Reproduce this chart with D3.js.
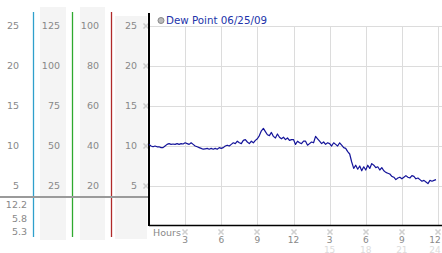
<!DOCTYPE html>
<html>
<head>
<meta charset="utf-8">
<script src="https://cdn.jsdelivr.net/npm/d3@7"></script>
<style>
  body { margin: 0; background: #fff; }
  text { font-family: 'DejaVu Sans', Verdana, sans-serif; }
</style>
</head>
<body>
<div id="chart"></div>
<script>
// dew point readings, one every 10 minutes starting at midnight
const stepHours = 1 / 6
const dewPoint = [
  10.2, 10.0, 9.9, 10.0, 9.9, 9.9,
  9.8, 9.8, 10.0, 10.2, 10.3, 10.2,
  10.25, 10.2, 10.3, 10.2, 10.3, 10.25,
  10.4, 10.3, 10.2, 10.4, 10.2, 10.0,
  9.9, 9.8, 9.7, 9.6, 9.65, 9.7,
  9.6, 9.7, 9.6, 9.7, 9.6, 9.8,
  9.7, 9.8, 10.0, 10.1, 10.0, 10.2,
  10.4, 10.3, 10.6, 10.4, 10.3, 10.7,
  10.8, 10.5, 10.3, 10.6, 10.4, 10.7,
  10.9, 11.3, 11.9, 12.2, 11.8, 11.4,
  11.3, 11.7, 11.2, 11.0, 11.5, 11.1,
  10.9, 11.1, 10.8, 11.0, 10.7, 10.8,
  10.8, 10.2, 10.6, 10.4, 10.3, 10.6,
  10.6, 10.1, 10.3, 10.5, 10.4, 11.2,
  10.9, 10.6, 10.3, 10.5, 10.2, 10.4,
  10.3, 10.0, 10.4, 10.2, 10.0, 10.4,
  10.1, 9.8, 9.7, 9.3, 9.0, 8.0,
  7.2, 7.6, 7.1, 7.5, 6.9, 7.4,
  7.0, 7.6, 7.2, 7.8, 7.6, 7.3,
  7.4, 7.0, 7.3, 6.9, 6.7, 6.6,
  6.5, 6.2, 6.1, 5.8, 6.0, 6.1,
  5.9, 6.1, 6.3, 6.1, 6.0, 6.3,
  6.2, 5.9, 6.0, 5.8, 5.6, 5.7,
  5.5, 5.3, 5.7, 5.6, 5.7, 5.8
]

const seriesName = 'Dew Point 06/25/09'
const yTicks = [5, 10, 15, 20, 25]
const col2Labels = [25, 50, 75, 100, 125]
const col3Labels = [20, 40, 60, 80, 100]
const statLabels = ['12.2', '5.8', '5.3']
const xTicks = [3, 6, 9, 12, 15, 18, 21, 24]
const xTickLabels = ['3', '6', '9', '12', '3', '6', '9', '12']
const xTickSub = ['', '', '', '', '15', '18', '21', '24']

const width = 442
const height = 253
const plot = { left: 149, right: 438, top: 13, bottom: 226 }

const svg = d3.select('#chart')
.append('svg')
.attr('width', width)
.attr('height', height)

const x = d3.scaleLinear().domain([0, 24]).range([plot.left, plot.right])
const y = d3.scaleLinear().domain([0, 25]).range([226, 26])

// little dotted tick marker, an X made of 1px dots
const markDots = [[-2, -2], [2, -2], [-1, -1], [1, -1], [0, 0], [-1, 1], [1, 1], [-2, 2], [2, 2]]
const mark = (g, px, py) => {
  const cx = Math.round(px)
  const cy = Math.round(py)
  g.selectAll(null)
    .data(markDots)
    .enter()
    .append('rect')
    .attr('x', d => cx + d[0] - 0.5)
    .attr('y', d => cy + d[1] - 0.5)
    .attr('width', 1).attr('height', 1)
    .attr('fill', '#999')
}

// left side columns
const side = svg.append('g')
side.append('rect').attr('x', 40).attr('y', 7).attr('width', 26).attr('height', 233).attr('fill', '#f4f4f4')
side.append('rect').attr('x', 80).attr('y', 7).attr('width', 25).attr('height', 233).attr('fill', '#f4f4f4')
side.append('rect').attr('x', 115).attr('y', 16).attr('width', 32).attr('height', 223).attr('fill', '#f4f4f4')

const colLine = (px, color) => {
  side.append('line')
    .attr('x1', px).attr('x2', px)
    .attr('y1', 12).attr('y2', 237)
    .attr('stroke', color)
    .attr('stroke-width', 1.3)
}
colLine(33.5, '#2fa0cc')
colLine(72.5, '#2faa2f')
colLine(111.5, '#b02a2a')

const colText = (vals, px) => {
  side.selectAll(null)
    .data(yTicks)
    .enter()
    .append('text')
    .attr('x', px)
    .attr('y', d => y(d))
    .attr('dy', '0.35em')
    .attr('text-anchor', 'end')
    .attr('font-size', 9.5)
    .attr('fill', '#888')
    .text((d, i) => vals[i])
}
colText(yTicks, 19)
colText(col2Labels, 60)
colText(col3Labels, 99)
colText(yTicks, 137)
yTicks.forEach(d => mark(side, 145.5, y(d)))

side.append('line')
  .attr('x1', 0).attr('x2', 149)
  .attr('y1', 197).attr('y2', 197)
  .attr('stroke', '#9a9a9a')
  .attr('stroke-width', 2)

side.selectAll(null)
  .data(statLabels)
  .enter()
  .append('text')
  .attr('x', 27)
  .attr('y', (d, i) => 205 + i * 13.5)
  .attr('dy', '0.35em')
  .attr('text-anchor', 'end')
  .attr('font-size', 9.5)
  .attr('fill', '#888')
  .text(d => d)

// grid
const grid = svg.append('g')
grid.selectAll(null)
  .data(yTicks)
  .enter()
  .append('line')
  .attr('x1', plot.left).attr('x2', width)
  .attr('y1', d => Math.round(y(d)) + 0.5).attr('y2', d => Math.round(y(d)) + 0.5)
  .attr('stroke', '#dcdcdc')
grid.selectAll(null)
  .data(xTicks)
  .enter()
  .append('line')
  .attr('x1', d => Math.round(x(d)) + 0.5).attr('x2', d => Math.round(x(d)) + 0.5)
  .attr('y1', y(25)).attr('y2', plot.bottom)
  .attr('stroke', '#dcdcdc')

// axes
svg.append('line')
  .attr('x1', plot.left).attr('x2', plot.left)
  .attr('y1', plot.top).attr('y2', plot.bottom)
  .attr('stroke', '#000')
  .attr('stroke-width', 2)
svg.append('line')
  .attr('x1', plot.left).attr('x2', width)
  .attr('y1', plot.bottom - 0.5).attr('y2', plot.bottom - 0.5)
  .attr('stroke', '#000')
  .attr('stroke-width', 1.5)

const xa = svg.append('g')
xa.append('text')
  .attr('x', 153).attr('y', 236)
  .attr('font-size', 9.5)
  .attr('fill', '#888')
  .text('Hours')
xTicks.forEach((d, i) => {
  const px = Math.min(x(d), 435)
  mark(xa, x(d), 232)
  xa.append('text')
    .attr('x', px).attr('y', 243)
    .attr('text-anchor', 'middle')
    .attr('font-size', 9)
    .attr('fill', '#888')
    .text(xTickLabels[i])
  xa.append('text')
    .attr('x', px).attr('y', 252.5)
    .attr('text-anchor', 'middle')
    .attr('font-size', 9)
    .attr('fill', '#dcdcdc')
    .text(xTickSub[i])
})

// series
const line = d3.line()
.x((d, i) => x(i * stepHours))
.y(d => y(d))

svg.append('path')
  .datum(dewPoint)
  .attr('fill', 'none')
  .attr('stroke', '#14149a')
  .attr('stroke-linejoin', 'round')
  .attr('stroke-width', 1.2)
  .attr('d', line)

// legend
svg.append('circle')
  .attr('cx', 161).attr('cy', 20.5).attr('r', 3)
  .attr('fill', '#bbb').attr('stroke', '#888')
svg.append('text')
  .attr('x', 166).attr('y', 24)
  .attr('font-size', 10.3)
  .attr('fill', '#2233aa')
  .text(seriesName)
</script>
</body>
</html>
